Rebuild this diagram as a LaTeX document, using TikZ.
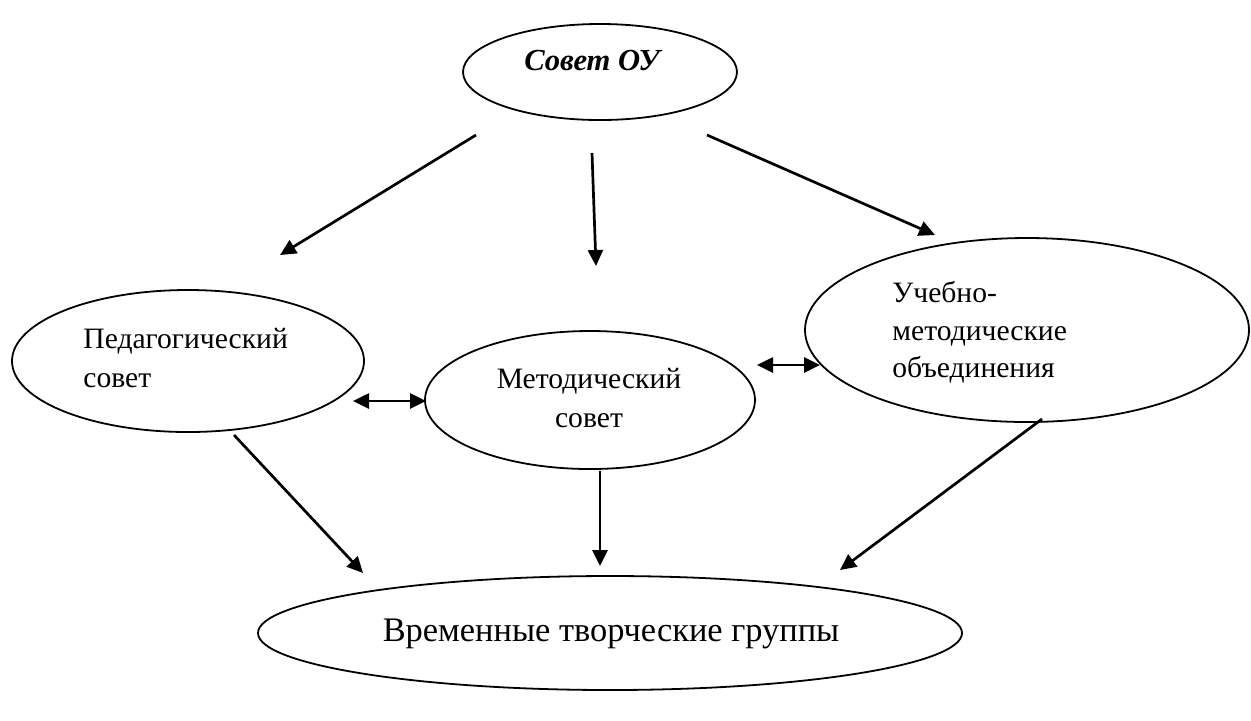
\documentclass[tikz,border=0pt]{standalone}
\usepackage{fontspec}
\setmainfont{Liberation Serif}
\usetikzlibrary{shapes.geometric, arrows.meta}

\tikzset{
	oval/.style = {ellipse, draw, line width = 0.9pt, inner sep = 0pt},
	txt/.style = {inner sep = 0pt, font = \fontsize{14.8pt}{19.5pt}\selectfont},
	link/.style = {line width = 1.35pt, -{Triangle[length = 8pt, width = 7.5pt]}},
	twoway/.style = {line width = 1.35pt, {Triangle[length = 8pt, width = 7.5pt]}-{Triangle[length = 8pt, width = 7.5pt]}}
}

\begin{document}
\begin{tikzpicture}[x = 0.5pt, y = -0.5pt]
	\useasboundingbox (0, 0) rectangle (1251, 720);

	% Ovale
	\node [oval, minimum width = 137pt, minimum height = 48pt] (sovet) at (600, 72) {};
	\node [oval, minimum width = 176pt, minimum height = 71pt] (ped) at (188, 361) {};
	\node [oval, minimum width = 165pt, minimum height = 69pt] (met) at (590, 400) {};
	\node [oval, minimum width = 222pt, minimum height = 92pt] (umo) at (1027, 330) {};
	\node [oval, minimum width = 352pt, minimum height = 57pt] (vtg) at (610, 633) {};

	% Texte
	\node [txt, anchor = base, font = \fontsize{15.3pt}{19.5pt}\selectfont\bfseries\itshape] (sovet-text) at (592, 70) {Совет ОУ};
	\node [txt, anchor = base west] (ped-1) at (83, 348) {Педагогический};
	\node [txt, anchor = base west] (ped-2) at (83, 387) {совет};
	\node [txt, anchor = base] (met-1) at (589, 388) {Методический};
	\node [txt, anchor = base] (met-2) at (589, 427) {совет};
	\node [txt, anchor = base west] (umo-1) at (892, 302) {Учебно-};
	\node [txt, anchor = base west] (umo-2) at (892, 340) {методические};
	\node [txt, anchor = base west] (umo-3) at (892, 377) {объединения};
	\node [txt, anchor = base, font = \fontsize{17.2pt}{19.5pt}\selectfont] (vtg-text) at (611, 641) {Временные творческие группы};

	% Pfeilenden
	\coordinate (sovet-l) at (476, 135);
	\coordinate (sovet-m) at (592, 153);
	\coordinate (sovet-r) at (707, 135);
	\coordinate (ped-top) at (280, 255);
	\coordinate (met-top) at (596, 266);
	\coordinate (umo-top) at (935, 235);
	\coordinate (ped-right) at (353, 401);
	\coordinate (met-left) at (426, 401);
	\coordinate (met-right) at (757, 365);
	\coordinate (umo-left) at (820, 365);
	\coordinate (ped-bottom) at (234, 435);
	\coordinate (met-bottom) at (600, 471);
	\coordinate (umo-bottom) at (1042, 419);
	\coordinate (vtg-l) at (363, 573);
	\coordinate (vtg-m) at (600, 566);
	\coordinate (vtg-r) at (840, 570);

	% Pfeile
	\draw [link] (sovet-l) -- (ped-top);
	\draw [link] (sovet-m) -- (met-top);
	\draw [link] (sovet-r) -- (umo-top);
	\draw [twoway] (ped-right) -- (met-left);
	\draw [twoway] (met-right) -- (umo-left);
	\draw [link] (ped-bottom) -- (vtg-l);
	\draw [link] (met-bottom) -- (vtg-m);
	\draw [link] (umo-bottom) -- (vtg-r);
\end{tikzpicture}
\end{document}
